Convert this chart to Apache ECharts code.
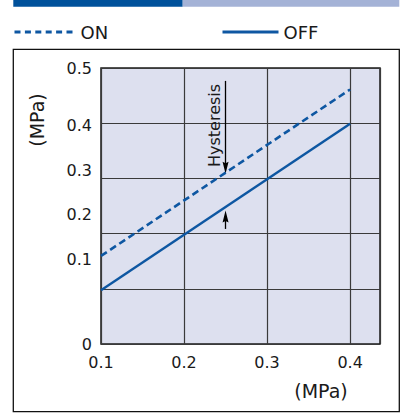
<!DOCTYPE html>
<html>
<head>
<meta charset="utf-8">
<script src="https://cdn.jsdelivr.net/npm/echarts@6/dist/echarts.min.js"></script>
<style>
html,body{margin:0;padding:0;background:#fff;}
#c{width:406px;height:417px;}
</style>
</head>
<body>
<div id="c"></div>
<script>
// ---- data ----
const xPoints = [0.1, 0.4];            // supply pressure (MPa)
const onValues = [0.109, 0.479];       // ON pressure (MPa, per printed labels)
const offValues = [0.033, 0.403];      // OFF pressure (MPa, per printed labels)
const xTickLabels = [0.1, 0.2, 0.3, 0.4];
const yTickLabelsMid = [0.1, 0.2, 0.3, 0.4];
const yTickLabelsEnds = [0, 0.5];
// hysteresis annotation (MPa)
const hysteresisX = 0.25;
const hysteresisTop = 0.498;
const hysteresisOnArrow = 0.305;   // centre of the down arrow head
const hysteresisOffArrow = 0.1965; // centre of the up arrow head
const hysteresisBottom = 0.169;

const FONT = 'DejaVu Sans';
const BLUE = '#0e57a2';
const TXT = '#1a1a1a';
const ARROW = 'path://M0,0 L3,12 L0,10.4 L-3,12 Z';

const chart = echarts.init(document.getElementById('c'), null, {renderer: 'svg'});

const pairs = (xs, ys) => xs.map((x, i) => [x, ys[i]]);
const fmt = v => (v === 0 ? '0' : v.toFixed(1));

const option = {
  animation: false,
  backgroundColor: '#ffffff',
  textStyle: {fontFamily: FONT},
  grid: {
    left: 101, right: 26, top: 68, bottom: 73,
    show: true, backgroundColor: '#dde0ef',
    borderColor: '#1a1a1a', borderWidth: 1.5
  },
  legend: [
    {
      data: ['ON'], left: 13, top: 23, itemWidth: 58, itemHeight: 18, padding: 0,
      textStyle: {fontFamily: FONT, fontSize: 18, color: TXT, padding: [0, 0, 0, 3]},
      itemStyle: {color: 'rgba(0,0,0,0)', borderWidth: 0},
      lineStyle: {width: 3, type: [6, 4.4], color: BLUE},
      selectedMode: false
    },
    {
      data: ['OFF'], left: 221, top: 23, itemWidth: 56, itemHeight: 18, padding: 0,
      textStyle: {fontFamily: FONT, fontSize: 18, color: TXT},
      itemStyle: {color: 'rgba(0,0,0,0)', borderWidth: 0},
      lineStyle: {width: 3, type: 'solid', color: BLUE},
      selectedMode: false
    }
  ],
  xAxis: {
    type: 'value', min: 0.1, max: 0.436, interval: 0.1,
    axisLine: {show: false}, axisTick: {show: false},
    splitLine: {show: true, lineStyle: {color: '#3a3a3a', width: 1.2}},
    axisLabel: {
      customValues: xTickLabels, formatter: fmt, margin: 10,
      fontFamily: FONT, fontSize: 16, color: TXT
    }
  },
  yAxis: [
    { // grid
      type: 'value', min: 0, max: 5, interval: 1, position: 'left',
      axisLine: {show: false}, axisTick: {show: false}, axisLabel: {show: false},
      splitLine: {show: true, lineStyle: {color: '#3a3a3a', width: 1.2}}
    },
    { // printed middle labels
      type: 'value', min: -0.0867, max: 0.5267, position: 'left',
      axisLine: {show: false}, axisTick: {show: false}, splitLine: {show: false},
      axisLabel: {
        customValues: yTickLabelsMid, formatter: fmt, margin: 9,
        fontFamily: FONT, fontSize: 16, color: TXT
      }
    },
    { // printed end labels
      type: 'value', min: 0, max: 0.5, position: 'left',
      axisLine: {show: false}, axisTick: {show: false}, splitLine: {show: false},
      axisLabel: {
        customValues: yTickLabelsEnds, formatter: fmt, margin: 9,
        fontFamily: FONT, fontSize: 16, color: TXT
      }
    }
  ],
  series: [
    {
      name: 'ON', type: 'line', yAxisIndex: 1, symbol: 'none', silent: true,
      data: pairs(xPoints, onValues),
      lineStyle: {color: BLUE, width: 2.6, type: [7, 4]},
      itemStyle: {color: BLUE}
    },
    {
      name: 'OFF', type: 'line', yAxisIndex: 1, symbol: 'none', silent: true,
      data: pairs(xPoints, offValues),
      lineStyle: {color: BLUE, width: 2.4},
      itemStyle: {color: BLUE},
      markLine: {
        silent: true, animation: false,
        symbol: ['none', 'none'],
        lineStyle: {color: '#000', width: 1.3, type: 'solid'},
        emphasis: {disabled: true},
        data: [
          [
            {coord: [hysteresisX, hysteresisOnArrow]},
            {coord: [hysteresisX, hysteresisTop],
             label: {show: true, position: 'insideEndTop', formatter: 'Hysteresis',
                     distance: 3, fontFamily: FONT, fontSize: 16, color: TXT}}
          ],
          [
            {coord: [hysteresisX, hysteresisBottom], label: {show: false}},
            {coord: [hysteresisX, hysteresisOffArrow], label: {show: false}}
          ]
        ]
      }
    },
    {
      name: 'arrowheads', type: 'scatter', yAxisIndex: 1, silent: true,
      symbol: ARROW, symbolSize: [6, 12],
      itemStyle: {color: '#000', opacity: 1},
      data: [
        {value: [hysteresisX, hysteresisOnArrow], symbolRotate: 180},
        {value: [hysteresisX, hysteresisOffArrow], symbolRotate: 0}
      ]
    }
  ],
  graphic: [
    {type: 'rect', shape: {x: 13.3, y: 0, width: 169.4, height: 6.7}, style: {fill: '#00519b'}, silent: true},
    {type: 'rect', shape: {x: 182.7, y: 0, width: 216.6, height: 6.7}, style: {fill: '#a4b2d6'}, silent: true},
    {type: 'rect', shape: {x: 13.3, y: 49.3, width: 386, height: 362.4},
     style: {fill: 'none', stroke: '#111', lineWidth: 1.3}, silent: true},
    {type: 'text', x: 37, y: 120, rotation: Math.PI / 2, silent: true,
     style: {text: '(MPa)', fontFamily: FONT, fontSize: 19, fill: TXT, align: 'center', verticalAlign: 'middle'}},
    {type: 'text', x: 321, y: 391, silent: true,
     style: {text: '(MPa)', fontFamily: FONT, fontSize: 19, fill: TXT, align: 'center', verticalAlign: 'middle'}}
  ]
};

chart.setOption(option);
</script>
</body>
</html>
